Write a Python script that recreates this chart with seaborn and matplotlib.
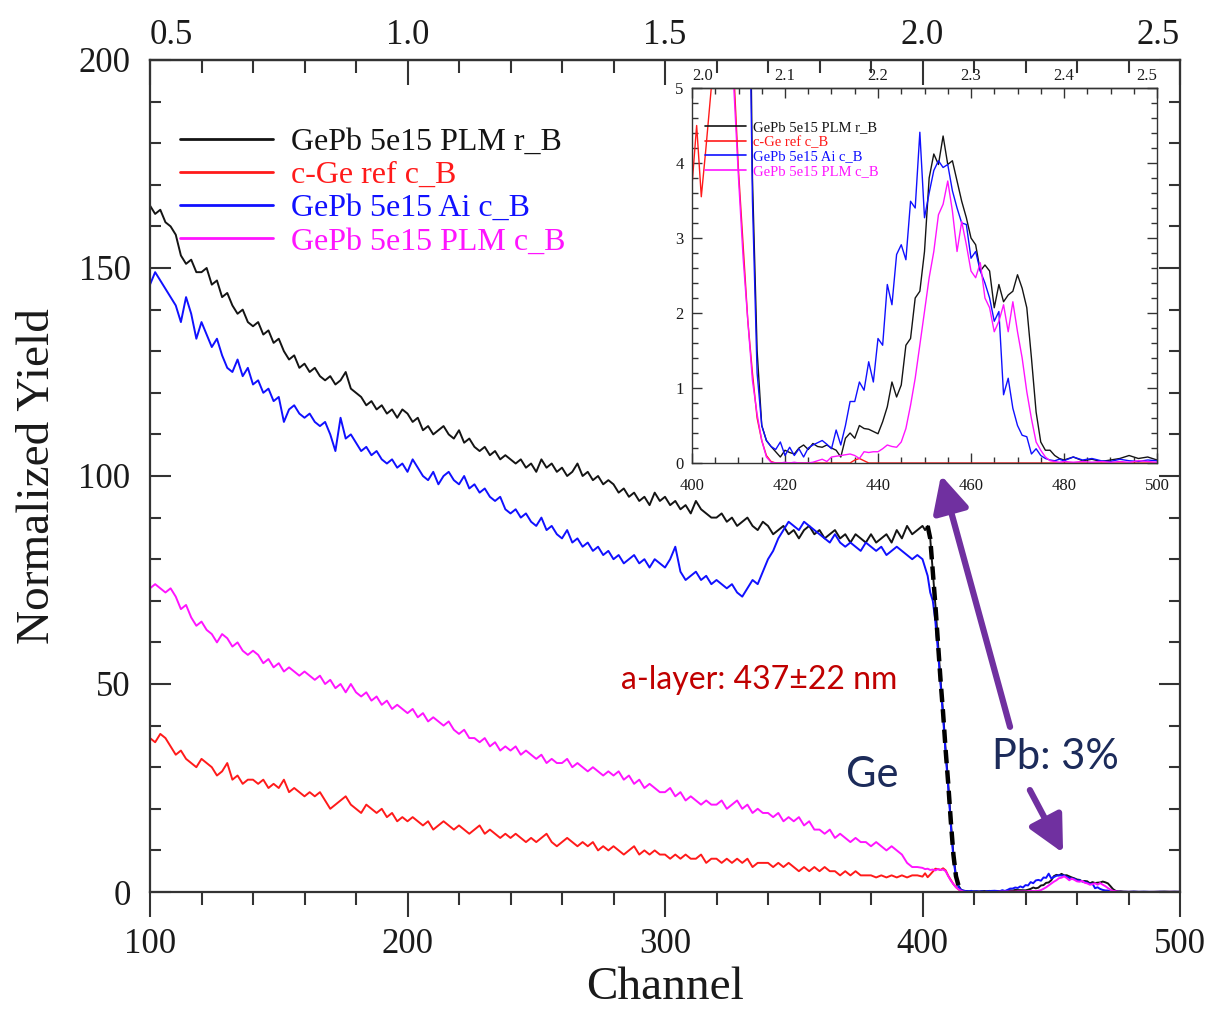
import numpy as np
import pandas as pd
import matplotlib
matplotlib.use("Agg")
import matplotlib.pyplot as plt
import seaborn as sns
from matplotlib.ticker import MultipleLocator, FixedLocator, FormatStrFormatter

# ---------------- data ----------------
# channel grid: every 2nd channel below 400, every channel 400-480, every 2nd above
channel_low = np.arange(100, 400, 2)
channel_edge = np.arange(400, 481, 1)
channel_tail = np.arange(482, 501, 2)
channel = np.concatenate([channel_low, channel_edge, channel_tail])

labels = ["GePb 5e15 PLM r_B", "c-Ge ref c_B", "GePb 5e15 Ai c_B", "GePb 5e15 PLM c_B"]
colors = ["#141414", "#ff1a1a", "#1010ff", "#ff14ff"]

black_low = [165, 163, 164, 161, 160, 158, 153, 151, 152, 149,
             149, 150, 146, 147, 143, 144, 141, 139, 140, 137,
             136, 137, 134, 135, 132, 133, 130, 128, 129, 126,
             127, 125, 126, 124, 123, 124, 122, 123, 125, 121,
             120, 119, 117, 118, 116, 117, 115, 116, 114, 116,
             115, 113, 114, 111, 112, 110, 111, 112, 110, 109,
             111, 108, 109, 107, 106, 107, 105, 106, 104, 105,
             104, 103, 104, 102, 103, 101, 104, 102, 103, 101,
             102, 100, 101, 103, 100, 101, 99, 100, 98, 99,
             98, 96, 97, 95, 96, 94, 95, 93, 96, 94,
             95, 93, 94, 92, 93, 91, 94, 92, 91, 90,
             90, 91, 89, 90, 88, 89, 90, 88, 87, 89,
             88, 86, 87, 88, 86, 87, 85, 87, 88, 86,
             87, 85, 86, 87, 85, 86, 84, 86, 85, 84,
             86, 84, 85, 86, 84, 87, 85, 88, 86, 87]
black_edge = [88, 87, 88, 85, 77, 69, 60, 51, 43, 34,
              26, 17, 9, 3.8, 1.5, 0.5, 0.3, 0.22, 0.15, 0.08,
              0.17, 0.14, 0.12, 0.2, 0.24, 0.18, 0.26, 0.22, 0.21, 0.24,
              0.2, 0.17, 0.08, 0.33, 0.4, 0.33, 0.5, 0.46, 0.45, 0.42,
              0.39, 0.55, 0.75, 1.08, 0.88, 1.04, 1.57, 1.66, 2.2, 2.29,
              2.82, 3.8, 4.12, 3.98, 4.36, 3.98, 4.03, 3.76, 3.49, 3.27,
              3.0, 2.91, 2.56, 2.64, 2.56, 2.07, 2.38, 2.15, 2.24, 2.29,
              2.51, 2.33, 2.07, 1.4, 0.68, 0.28, 0.17, 0.17, 0.1, 0.06,
              0.04]
black_tail = [0.08, 0.03, 0.05, 0.02, 0.04, 0.06, 0.1, 0.06, 0.08, 0.04]

red_low = [37, 36, 38, 37, 35, 33, 34, 32, 31, 30,
           32, 31, 30, 28, 29, 31, 27, 28, 26, 27,
           27, 26, 27, 25, 26, 25, 27, 24, 25, 24,
           23, 24, 23, 24, 22, 20, 21, 22, 23, 21,
           20, 19, 21, 20, 19, 20, 18, 19, 17, 18,
           17, 18, 17, 16, 17, 15, 16, 17, 16, 15,
           16, 15, 14, 15, 16, 14, 15, 14, 13, 14,
           13, 14, 13, 12, 13, 12, 13, 14, 12, 11,
           12, 13, 12, 11, 12, 11, 12, 10, 11, 10,
           11, 10, 9, 10, 11, 9, 10, 9, 10, 9,
           9, 8, 9, 8, 9, 8, 8, 9, 7, 8,
           8, 7, 8, 7, 8, 7, 8, 6, 7, 7,
           7, 6, 7, 6, 7, 6, 5, 6, 5, 6,
           5, 6, 5, 5, 4, 5, 4, 5, 4, 4,
           4, 3.5, 4, 3.5, 4, 3.5, 4, 3.5, 4, 4]
red_edge = [3.7, 4.5, 3.55, 4.2, 4.9, 5.6, 5.5, 5.3, 5.7, 5.2,
            3.9, 2.9, 1.9, 1.2, 0.6, 0.3, 0.1, 0.02, 0, 0,
            0, 0, 0, 0, 0, 0, 0, 0, 0, 0,
            0, 0, 0, 0, 0, 0.04, 0.06, 0.03, 0, 0,
            0, 0, 0, 0, 0, 0, 0, 0, 0, 0,
            0, 0, 0, 0, 0, 0, 0, 0, 0, 0,
            0, 0, 0, 0, 0, 0, 0, 0, 0, 0,
            0, 0, 0, 0, 0, 0, 0, 0, 0, 0,
            0]
red_tail = [0, 0, 0, 0, 0, 0, 0, 0, 0, 0]

blue_low = [146, 149, 147, 145, 143, 141, 137, 143, 139, 133,
            137, 134, 131, 133, 129, 126, 125, 128, 124, 126,
            122, 123, 120, 121, 118, 119, 113, 116, 117, 115,
            114, 115, 113, 112, 113, 110, 106, 114, 109, 110,
            108, 106, 107, 105, 106, 104, 103, 104, 102, 103,
            101, 104, 102, 100, 99, 101, 98, 100, 101, 99,
            98, 100, 97, 98, 96, 97, 95, 94, 95, 92,
            91, 92, 90, 91, 89, 88, 90, 87, 88, 86,
            85, 87, 84, 85, 83, 84, 82, 83, 81, 82,
            80, 81, 79, 80, 81, 79, 80, 78, 80, 79,
            78, 80, 83, 77, 75, 76, 77, 75, 76, 74,
            75, 74, 73, 74, 72, 71, 73, 75, 74, 77,
            80, 82, 85, 87, 89, 88, 87, 89, 88, 87,
            86, 85, 84, 86, 84, 83, 84, 83, 82, 84,
            83, 82, 83, 81, 82, 83, 82, 81, 80, 81]
blue_edge = [80, 78, 76, 72, 70, 65, 58, 50, 42, 33,
             25, 16, 8, 3.5, 1.2, 0.5, 0.3, 0.22, 0.18, 0.28,
             0.1, 0.21, 0.1, 0.19, 0.08, 0.2, 0.24, 0.27, 0.3, 0.25,
             0.19, 0.44, 0.24, 0.5, 0.82, 0.82, 1.08, 0.97, 1.35, 1.08,
             1.66, 1.57, 2.38, 2.11, 2.78, 2.91, 2.71, 3.49, 3.4, 4.41,
             3.27, 3.6, 3.9, 4.03, 3.94, 3.98, 3.63, 3.4, 3.2, 3.18,
             2.73, 2.82, 2.56, 2.4, 2.2, 1.89, 2.02, 0.91, 1.13, 0.73,
             0.5, 0.37, 0.35, 0.12, 0.19, 0.1, 0.06, 0.04, 0.03, 0.05,
             0.03]
blue_tail = [0.08, 0.04, 0.06, 0.03, 0.02, 0.05, 0.03, 0.02, 0.04, 0.03]

magenta_low = [73, 74, 73, 72, 73, 71, 68, 69, 66, 64,
               65, 63, 62, 60, 62, 61, 59, 60, 58, 57,
               58, 57, 55, 56, 54, 55, 53, 54, 53, 52,
               53, 52, 51, 52, 50, 51, 49, 50, 48, 50,
               48, 47, 48, 46, 47, 45, 46, 44, 45, 44,
               43, 44, 42, 43, 41, 42, 41, 40, 41, 39,
               38, 39, 37, 37, 36, 37, 35, 36, 34, 35,
               34, 35, 33, 34, 33, 32, 33, 31, 32, 31,
               31, 32, 30, 31, 30, 29, 30, 29, 28, 29,
               28, 29, 27, 28, 26, 27, 25, 26, 25, 24,
               24, 25, 23, 24, 22, 23, 22, 21, 22, 21,
               21, 22, 20, 21, 22, 20, 21, 19, 20, 19,
               19, 18, 19, 17, 18, 17, 18, 16, 17, 15,
               15, 14, 15, 13, 14, 13, 12, 13, 12, 12,
               11, 12, 11, 10, 11, 10, 9, 7, 6, 6]
magenta_edge = [5.8, 5.5, 5.6, 5.3, 5.4, 5.2, 5.5, 5.3, 5.4, 5.0,
                3.8, 2.73, 1.9, 1.1, 0.65, 0.3, 0.08, 0.01, 0, 0,
                0.01, 0, 0.01, 0, 0, 0, 0.01, 0.03, 0.05, 0.02,
                0.08, 0.09, 0.1, 0.11, 0.12, 0.1, 0.06, 0.15, 0.14, 0.15,
                0.15, 0.19, 0.24, 0.22, 0.21, 0.28, 0.46, 0.77, 1.13, 1.57,
                2.02, 2.47, 2.82, 3.31, 3.45, 3.76, 3.36, 2.82, 3.22, 2.91,
                2.56, 2.47, 2.67, 2.2, 2.07, 1.75, 1.89, 2.11, 1.75, 2.15,
                1.75, 1.4, 0.95, 0.59, 0.28, 0.17, 0.08, 0.03, 0.02, 0.01,
                0.02]
magenta_tail = [0.01, 0.02, 0.01, 0.02, 0.01, 0.02, 0.01, 0.03, 0.02, 0.01]

series = [black_low + black_edge + black_tail,
          red_low + red_edge + red_tail,
          blue_low + blue_edge + blue_tail,
          magenta_low + magenta_edge + magenta_tail]

df = pd.DataFrame({
    "Channel": np.tile(channel, len(labels)),
    "Yield": np.concatenate([np.asarray(s, float) for s in series]),
    "Sample": np.repeat(labels, len(channel)),
})
palette = dict(zip(labels, colors))

# ---------------- style ----------------
sns.set_theme(style="ticks")
plt.rcParams["font.family"] = ["Liberation Serif", "DejaVu Serif"]
spine_col = "#333333"
txt_col = "#1a1a1a"

fig = plt.figure(figsize=(12.2, 10.13), dpi=100)
fig.patch.set_facecolor("white")
W, H = 1220.0, 1013.0
ax = fig.add_axes([150 / W, (H - 892) / H, 1030 / W, 832 / H])
ins = fig.add_axes([692 / W, (H - 463) / H, 465 / W, 375 / H])

# ---------------- main plot ----------------
sns.lineplot(data=df, x="Channel", y="Yield", hue="Sample", hue_order=labels,
             palette=palette, estimator=None, lw=1.4, ax=ax)
edge = df[(df.Sample == labels[0]) & (df.Channel >= 402) & (df.Channel <= 415)]
sns.lineplot(data=edge, x="Channel", y="Yield", color="black", lw=3.2,
             linestyle=(0, (3.0, 1.6)), estimator=None, legend=False, ax=ax)

ax.set_xlim(100, 500)
ax.set_ylim(0, 200)
ax.xaxis.set_major_locator(MultipleLocator(100))
ax.xaxis.set_minor_locator(MultipleLocator(20))
ax.yaxis.set_major_locator(MultipleLocator(50))
ax.yaxis.set_minor_locator(MultipleLocator(10))
ax.tick_params(axis="x", which="major", direction="out", length=18, width=1.5,
               labelsize=25, pad=8, colors=spine_col, labelcolor=txt_col, top=False)
ax.tick_params(axis="x", which="minor", direction="out", length=9, width=1.5,
               colors=spine_col, top=False)
ax.tick_params(axis="y", which="major", direction="in", length=15, width=1.5,
               labelsize=25, pad=14, colors=spine_col, labelcolor=txt_col,
               left=True, right=True)
ax.tick_params(axis="y", which="minor", direction="in", length=8, width=1.5,
               colors=spine_col, left=True, right=True)
for s in ax.spines.values():
    s.set_linewidth(1.6)
    s.set_color(spine_col)
    s.set_visible(True)
ax.set_xlabel("Channel", fontsize=34, labelpad=4, color=txt_col)
ax.set_ylabel("Normalized Yield", fontsize=34, labelpad=14, color=txt_col)

sec = ax.secondary_xaxis("top", functions=(lambda c: c / 200.0, lambda e: e * 200.0))
sec.xaxis.set_major_locator(FixedLocator([0.5, 1.0, 1.5, 2.0, 2.5]))
sec.xaxis.set_minor_locator(MultipleLocator(0.1))
sec.xaxis.set_major_formatter(FormatStrFormatter("%.1f"))
sec.tick_params(which="major", direction="in", length=18, width=1.5, labelsize=25,
                pad=6, colors=spine_col, labelcolor=txt_col)
sec.tick_params(which="minor", direction="in", length=9, width=1.5, colors=spine_col)
sec.spines["top"].set_linewidth(1.6)
sec.spines["top"].set_color(spine_col)

h, l = ax.get_legend_handles_labels()
leg = ax.legend(h[:4], l[:4], loc="upper left", bbox_to_anchor=(0.029, 0.919),
                frameon=False, fontsize=23, handlelength=2.9, handletextpad=0.57,
                labelspacing=0.12, borderpad=0, borderaxespad=0, labelcolor="linecolor")
for line in leg.get_lines():
    line.set_linewidth(2.0)

sans = ["Lato", "DejaVu Sans"]
ax.text(336.5, 51, "a-layer: 437\u00b122 nm", color="#c00000", fontsize=23,
        family=sans, ha="center", va="center")
ax.text(380.4, 28.2, "Ge", color="#1c2b5a", fontsize=30, family=sans,
        ha="center", va="center")
ax.text(451.5, 32.5, "Pb: 3%", color="#1c2b5a", fontsize=30, family=sans,
        ha="center", va="center")
arrow_kw = dict(arrowstyle="-|>,head_length=1.0,head_width=0.5", lw=4.5,
                color="#7030a0", shrinkA=0, shrinkB=0, mutation_scale=22)
ax.annotate("", xy=(407.2, 100.2), xytext=(434.0, 39.7), arrowprops=arrow_kw)
ax.annotate("", xy=(454.6, 9.4), xytext=(441.7, 24.5), arrowprops=arrow_kw)

# ---------------- inset ----------------
sns.lineplot(data=df, x="Channel", y="Yield", hue="Sample", hue_order=labels,
             palette=palette, estimator=None, lw=1.0, ax=ins)
ins.set_facecolor("white")
ins.set_xlim(400, 500)
ins.set_ylim(0, 5)
ins.set_xlabel("")
ins.set_ylabel("")
ins.xaxis.set_major_locator(MultipleLocator(20))
ins.xaxis.set_minor_locator(MultipleLocator(5))
ins.yaxis.set_major_locator(MultipleLocator(1))
ins.yaxis.set_minor_locator(MultipleLocator(0.2))
ins.tick_params(axis="x", which="major", direction="in", length=7, width=1.0,
                labelsize=12, pad=11, colors=spine_col, labelcolor=txt_col,
                bottom=True, top=False)
ins.tick_params(axis="y", which="major", direction="in", length=7, width=1.0,
                labelsize=12, pad=6, colors=spine_col, labelcolor=txt_col,
                left=True, right=True)
ins.tick_params(which="minor", direction="in", length=4, width=1.0, colors=spine_col,
                left=True, right=True, bottom=True, top=False)
for s in ins.spines.values():
    s.set_linewidth(1.0)
    s.set_color(spine_col)
    s.set_visible(True)

isec = ins.secondary_xaxis("top", functions=(lambda c: c / 200.0, lambda e: e * 200.0))
isec.xaxis.set_major_locator(FixedLocator([2.0, 2.1, 2.2, 2.3, 2.4, 2.5]))
isec.xaxis.set_minor_locator(MultipleLocator(0.025))
isec.xaxis.set_major_formatter(FormatStrFormatter("%.1f"))
isec.tick_params(which="major", direction="in", length=7, width=1.0, labelsize=12,
                 pad=3, colors=spine_col, labelcolor=txt_col)
isec.tick_params(which="minor", direction="in", length=4, width=1.0, colors=spine_col)
isec.spines["top"].set_linewidth(1.0)
isec.spines["top"].set_color(spine_col)

h2, l2 = ins.get_legend_handles_labels()
leg2 = ins.legend(h2[:4], l2[:4], loc="upper left", bbox_to_anchor=(0.028, 0.912),
                  frameon=False, fontsize=10.5, handlelength=2.8, handletextpad=0.5,
                  labelspacing=0.1, borderpad=0, borderaxespad=0, labelcolor="linecolor")
for line in leg2.get_lines():
    line.set_linewidth(1.2)

# edge tick labels of the energy axes sit inward, as in the reference
for axis in (sec, isec):
    tl = axis.xaxis.get_majorticklabels()
    tl[0].set_horizontalalignment("left")
    tl[-1].set_horizontalalignment("right")

fig.savefig("out.png", dpi=100, facecolor="white")
